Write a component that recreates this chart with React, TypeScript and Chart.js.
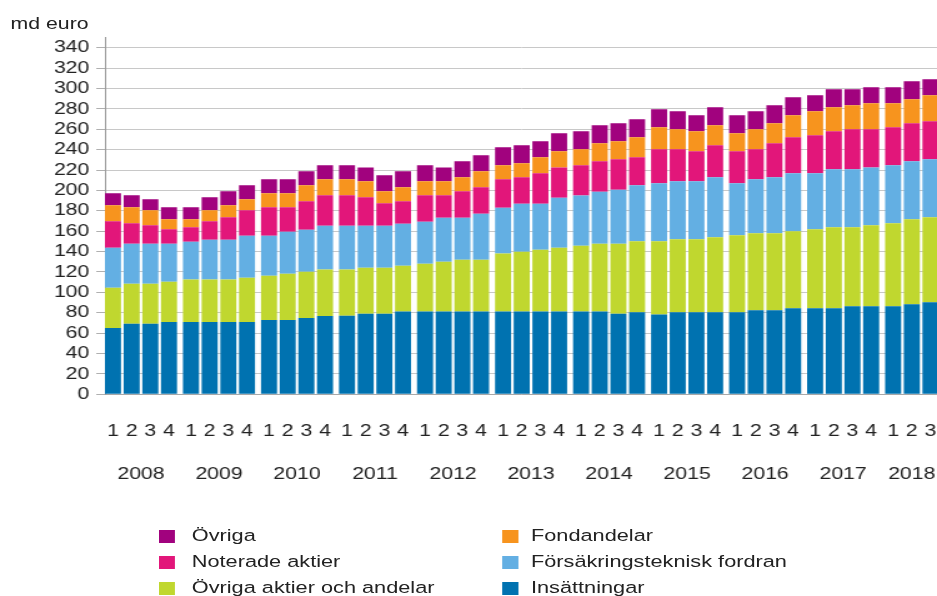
import React, { useEffect, useRef } from 'react';
import { Chart, registerables } from 'chart.js';

Chart.register(...registerables);

const YEARS = ['2008', '2009', '2010', '2011', '2012', '2013', '2014', '2015', '2016', '2017', '2018'];

const PERIODS = [
  '2008Q1', '2008Q2', '2008Q3', '2008Q4',
  '2009Q1', '2009Q2', '2009Q3', '2009Q4',
  '2010Q1', '2010Q2', '2010Q3', '2010Q4',
  '2011Q1', '2011Q2', '2011Q3', '2011Q4',
  '2012Q1', '2012Q2', '2012Q3', '2012Q4',
  '2013Q1', '2013Q2', '2013Q3', '2013Q4',
  '2014Q1', '2014Q2', '2014Q3', '2014Q4',
  '2015Q1', '2015Q2', '2015Q3', '2015Q4',
  '2016Q1', '2016Q2', '2016Q3', '2016Q4',
  '2017Q1', '2017Q2', '2017Q3', '2017Q4',
  '2018Q1', '2018Q2', '2018Q3',
];

const QUARTER_LABELS = [
  '1', '2', '3', '4', '1', '2', '3', '4', '1', '2', '3', '4', '1', '2', '3', '4',
  '1', '2', '3', '4', '1', '2', '3', '4', '1', '2', '3', '4', '1', '2', '3', '4',
  '1', '2', '3', '4', '1', '2', '3', '4', '1', '2', '3',
];

const INSATTNINGAR = [
  65.0, 69.3, 69.3, 70.9, 70.9, 70.9, 70.9, 70.9, 72.9, 72.9, 74.8, 76.8,
  77.1, 79.1, 79.1, 81.1, 81.1, 81.1, 81.1, 81.1, 81.1, 81.1, 81.1, 81.1,
  81.1, 81.1, 79.1, 80.4, 78.4, 80.4, 80.4, 80.4, 80.4, 82.4, 82.4, 84.3,
  84.3, 84.3, 86.3, 86.3, 86.3, 88.3, 90.2,
];

const OVRIGA_AKTIER = [
  39.6, 39.2, 39.2, 39.6, 41.6, 41.6, 41.6, 43.5, 43.5, 45.4, 45.5, 45.5,
  45.2, 45.1, 45.1, 45.1, 47.0, 49.0, 51.0, 51.0, 56.9, 58.8, 60.8, 62.7,
  64.7, 66.7, 68.7, 69.7, 71.7, 71.6, 71.6, 73.6, 75.5, 75.5, 75.5, 75.6,
  77.5, 79.5, 77.5, 79.5, 81.4, 83.3, 83.4,
];

const FORSAKRING = [
  39.2, 39.3, 39.3, 37.3, 37.2, 39.2, 39.2, 41.2, 39.2, 41.2, 41.2, 43.1,
  43.1, 41.2, 41.2, 41.2, 41.2, 43.2, 41.2, 45.1, 45.1, 47.1, 45.1, 49.1,
  49.1, 51.0, 52.9, 54.9, 56.9, 56.9, 56.9, 58.8, 51.1, 53.0, 54.9, 56.9,
  55.0, 56.9, 56.9, 56.8, 56.9, 56.9, 56.9,
];

const NOTERADE = [
  25.9, 19.9, 18.0, 14.0, 14.1, 18.0, 21.9, 24.9, 27.8, 23.9, 27.8, 29.8,
  29.8, 27.8, 21.9, 21.9, 25.9, 21.9, 25.8, 25.8, 27.8, 25.8, 29.8, 29.7,
  29.7, 29.7, 29.8, 27.5, 33.3, 31.4, 29.4, 31.4, 31.3, 29.4, 33.4, 35.3,
  37.2, 37.3, 39.2, 37.3, 37.3, 37.3, 37.3,
];

const FONDANDELAR = [
  15.7, 15.7, 14.7, 9.8, 7.8, 10.8, 11.8, 10.8, 13.8, 13.8, 15.7, 15.7,
  15.7, 15.7, 11.8, 13.7, 13.7, 13.7, 13.7, 15.7, 13.7, 13.8, 15.7, 15.7,
  15.7, 17.7, 17.7, 19.6, 21.6, 19.6, 19.7, 19.7, 17.7, 19.6, 19.6, 21.6,
  23.6, 23.5, 23.6, 25.5, 23.5, 23.6, 25.5,
];

const OVRIGA = [
  11.8, 11.8, 10.8, 11.8, 11.8, 12.7, 13.7, 13.7, 13.7, 13.7, 13.7, 13.7,
  13.7, 13.7, 15.7, 15.7, 15.7, 13.7, 15.7, 15.7, 17.7, 17.6, 15.7, 17.7,
  17.7, 17.7, 17.6, 17.6, 17.6, 17.7, 15.7, 17.6, 17.7, 17.7, 17.7, 17.6,
  15.7, 17.7, 15.7, 15.7, 15.7, 17.6, 15.7,
];

const Y_TICKS = [0, 20, 40, 60, 80, 100, 120, 140, 160, 180, 200, 220, 240, 260, 280, 300, 320, 340];

const SERIES = [
  { label: 'Insättningar', data: INSATTNINGAR, color: '#0072b0' },
  { label: 'Övriga aktier och andelar', data: OVRIGA_AKTIER, color: '#c0d72f' },
  { label: 'Försäkringsteknisk fordran', data: FORSAKRING, color: '#63afe3' },
  { label: 'Noterade aktier', data: NOTERADE, color: '#e2167a' },
  { label: 'Fondandelar', data: FONDANDELAR, color: '#f7941e' },
  { label: 'Övriga', data: OVRIGA, color: '#a1027e' },
];

const LEGEND_ROWS = [
  ['Övriga', 'Fondandelar'],
  ['Noterade aktier', 'Försäkringsteknisk fordran'],
  ['Övriga aktier och andelar', 'Insättningar'],
];

const FONT = '"Liberation Sans", Arial, sans-serif';
const TEXT = '#222222';
const YEAR_GAP = 0.178;
const INNER_W = 750;
const STRETCH = 937 / INNER_W;

export default function App() {
  const ref = useRef<HTMLCanvasElement | null>(null);

  useEffect(() => {
    if (!ref.current) return;
    const pos = PERIODS.map((p, i) => i + YEARS.indexOf(p.slice(0, 4)) * YEAR_GAP);
    const yearPos = YEARS.map((y) => {
      const ps = pos.filter((_, i) => PERIODS[i].startsWith(y));
      return ps.reduce((a, b) => a + b, 0) / ps.length;
    });
    const xMin = -0.43;
    const xMax = 44.13;
    const zeroPad = (s: any) => {
      s.paddingLeft = 0;
      s.paddingRight = 0;
    };

    const chart = new Chart(ref.current, {
      type: 'bar',
      data: {
        datasets: SERIES.map((s) => ({
          label: s.label,
          data: s.data.map((v, i) => ({ x: pos[i], y: v })),
          backgroundColor: s.color,
          borderWidth: 0,
          categoryPercentage: 1,
          barPercentage: 0.86,
        })),
      },
      options: {
        animation: false,
        responsive: false,
        events: [],
        layout: { padding: { top: 37.5, left: 0, right: 0, bottom: 101.7 } },
        plugins: { legend: { display: false }, tooltip: { enabled: false }, title: { display: false } },
        scales: {
          x: {
            type: 'linear',
            position: 'bottom',
            stacked: true,
            offset: false,
            min: xMin,
            max: xMax,
            weight: 1,
            grid: { display: false, drawTicks: false, offset: false },
            border: { display: true, color: '#a8a8a8', width: 1 },
            afterBuildTicks: (s: any) => {
              s.ticks = pos.map((v) => ({ value: v }));
            },
            afterFit: (s: any) => {
              s.height = 56;
              zeroPad(s);
            },
            ticks: {
              autoSkip: false,
              maxRotation: 0,
              minRotation: 0,
              padding: 27,
              color: TEXT,
              font: { family: FONT, size: 17 },
              callback: (_v: any, i: number) => QUARTER_LABELS[i],
            },
          },
          years: {
            type: 'linear',
            position: 'bottom',
            offset: false,
            min: xMin,
            max: xMax,
            weight: 2,
            grid: { display: false, drawTicks: false, offset: false },
            border: { display: false },
            afterBuildTicks: (s: any) => {
              s.ticks = yearPos.map((v) => ({ value: v }));
            },
            afterFit: (s: any) => {
              s.height = 44;
              zeroPad(s);
            },
            ticks: {
              autoSkip: false,
              maxRotation: 0,
              minRotation: 0,
              padding: 13.5,
              color: TEXT,
              font: { family: FONT, size: 17 },
              callback: (_v: any, i: number) => YEARS[i],
            },
          },
          y: {
            type: 'linear',
            stacked: true,
            min: 0,
            max: 350,
            afterBuildTicks: (s: any) => {
              s.ticks = Y_TICKS.map((v) => ({ value: v }));
            },
            afterFit: (s: any) => {
              s.width = 84;
            },
            grid: { color: '#c8c8c8', lineWidth: 1, tickLength: 7, tickColor: '#b0b0b0' },
            border: { display: true, color: '#9c9c9c', width: 1 },
            ticks: {
              autoSkip: false,
              padding: 5.5,
              color: TEXT,
              font: { family: FONT, size: 17 },
              callback: (v: any) => String(v),
            },
          },
        },
      },
    });
    return () => chart.destroy();
  }, []);

  const colorOf = (label: string) => SERIES.find((s) => s.label === label)?.color;
  const boxLeft = [127.3, 402.4];
  const textLeft = [153.5, 425];
  const rowCenter = [536, 562, 588];

  return (
    <div style={{ position: 'absolute', left: 0, top: 0, width: 937, height: 596, overflow: 'hidden', background: '#fff' }}>
      <div
        style={{
          position: 'absolute',
          left: 0,
          top: 0,
          width: INNER_W,
          height: 596,
          transform: `scaleX(${STRETCH})`,
          transformOrigin: '0 0',
          fontFamily: FONT,
          color: TEXT,
        }}
      >
        <canvas ref={ref} width={INNER_W} height={596} style={{ position: 'absolute', left: 0, top: 0, width: INNER_W, height: 596 }} />
        <div style={{ position: 'absolute', left: 8.5, top: 15.5, fontSize: 17, lineHeight: '16px', whiteSpace: 'nowrap' }}>md euro</div>
        {LEGEND_ROWS.map((row, r) =>
          row.map((label, c) => (
            <React.Fragment key={label}>
              <div
                style={{
                  position: 'absolute',
                  left: boxLeft[c],
                  top: rowCenter[r] - 6.5,
                  width: 12.5,
                  height: 13,
                  background: colorOf(label),
                }}
              />
              <div
                style={{
                  position: 'absolute',
                  left: textLeft[c],
                  top: rowCenter[r] - 9,
                  height: 16,
                  lineHeight: '16px',
                  fontSize: 17.4,
                  whiteSpace: 'nowrap',
                }}
              >
                {label}
              </div>
            </React.Fragment>
          ))
        )}
      </div>
    </div>
  );
}
